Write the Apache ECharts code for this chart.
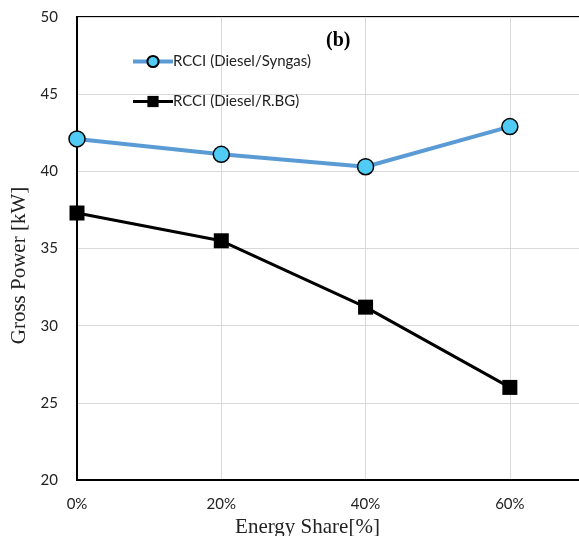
<!DOCTYPE html>
<html><head><meta charset="utf-8">
<script src="https://cdn.jsdelivr.net/npm/echarts@6/dist/echarts.min.js"></script>
<style>html,body{margin:0;padding:0;background:#fff}#c{width:579px;height:536px}</style>
</head><body><div id="c"></div>
<script>
const energyShare = [0, 20, 40, 60];
const syngas = [42.1, 41.1, 40.3, 42.9];
const rbg = [37.3, 35.5, 31.2, 26.0];
const seriesNames = ['RCCI (Diesel/Syngas)', 'RCCI (Diesel/R.BG)'];

const chart = echarts.init(document.getElementById('c'), null, {renderer: 'canvas'});
const lab = 'Lato, "Open Sans", sans-serif';
chart.setOption({
  animation: false,
  backgroundColor: '#fff',
  title: {text: '(b)', left: 321, top: 26, textStyle: {fontFamily: '"Liberation Serif", serif', fontWeight: 'bold', fontSize: 20, color: '#000'}},
  legend: {
    orient: 'vertical', left: 126, top: 49, itemGap: 25, itemWidth: 40, itemHeight: 14,
    lineStyle: {width: 'inherit'},
    data: seriesNames,
    textStyle: {fontFamily: lab, fontSize: 15, color: '#222', padding: [0,0,0,-5]}
  },
  grid: {left: 77, right: -3, top: 17, bottom: 56, show: true, borderColor: '#000', borderWidth: 2, containLabel: false, outerBoundsMode: 'none'},
  xAxis: {
    type: 'value', min: 0, max: 70, interval: 20,
    name: 'Energy Share[%]', nameLocation: 'middle', nameGap: 30,
    nameTextStyle: {fontFamily: '"Liberation Serif", serif', fontSize: 21, color: '#222', padding: [0, 44, 0, 0]},
    axisLine: {show: true, lineStyle: {color: '#000', width: 2}},
    axisTick: {show: false},
    axisLabel: {showMaxLabel: false, margin: 17, fontFamily: lab, fontSize: 15, color: '#222', formatter: v => v === 70 ? '' : v + '%'},
    splitLine: {show: true, lineStyle: {color: '#d9d9d9', width: 1}}
  },
  yAxis: {
    type: 'value', min: 20, max: 50, interval: 5,
    name: 'Gross Power [kW]', nameLocation: 'middle', nameGap: 43,
    nameTextStyle: {fontFamily: '"Liberation Serif", serif', fontSize: 21, color: '#222', padding: [0, 34, 0, 0]},
    axisLine: {show: true, lineStyle: {color: '#000', width: 2}},
    axisTick: {show: false},
    axisLabel: {margin: 19, fontFamily: lab, fontSize: 15, color: '#222'},
    splitLine: {show: true, lineStyle: {color: '#d9d9d9', width: 1}}
  },
  series: [
    {
      name: seriesNames[0], type: 'line',
      data: energyShare.map((x, i) => [x, syngas[i]]),
      symbol: 'circle', symbolSize: 16,
      lineStyle: {color: '#5B9BD5', width: 4},
      itemStyle: {color: '#4FCBF5', borderColor: '#000', borderWidth: 1.5}
    },
    {
      name: seriesNames[1], type: 'line',
      data: energyShare.map((x, i) => [x, rbg[i]]),
      symbol: 'rect', symbolSize: 15,
      lineStyle: {color: '#000', width: 3},
      itemStyle: {color: '#000', borderColor: '#000', borderWidth: 0}
    }
  ]
});
</script></body></html>
